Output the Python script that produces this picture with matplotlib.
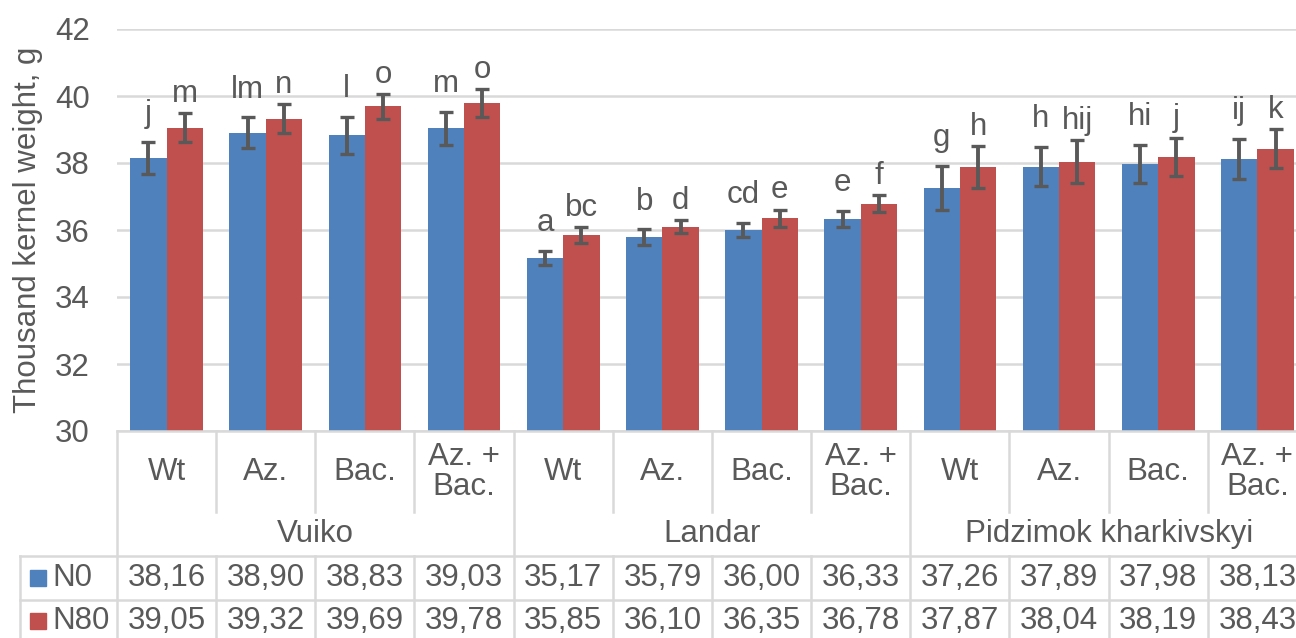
import matplotlib
matplotlib.use('Agg')
import matplotlib.pyplot as plt
from matplotlib.lines import Line2D
from matplotlib.patches import Rectangle
import matplotlib.transforms as mtransforms

plt.rcParams['font.family'] = ['Liberation Sans', 'DejaVu Sans']

groups = ['Vuiko', 'Landar', 'Pidzimok kharkivskyi']
treatments = ['Wt', 'Az.', 'Bac.', 'Az. +\nBac.']
series_names = ['N0', 'N80']

n0 = [38.16, 38.90, 38.83, 39.03, 35.17, 35.79, 36.00, 36.33, 37.26, 37.89, 37.98, 38.13]
n80 = [39.05, 39.32, 39.69, 39.78, 35.85, 36.10, 36.35, 36.78, 37.87, 38.04, 38.19, 38.43]
n0_err = [0.48, 0.46, 0.55, 0.50, 0.21, 0.24, 0.22, 0.24, 0.66, 0.59, 0.57, 0.60]
n80_err = [0.43, 0.43, 0.38, 0.42, 0.23, 0.20, 0.26, 0.25, 0.63, 0.64, 0.57, 0.58]
n0_letters = ['j', 'lm', 'l', 'm', 'a', 'b', 'cd', 'e', 'g', 'h', 'hi', 'ij']
n80_letters = ['m', 'n', 'o', 'o', 'bc', 'd', 'e', 'f', 'h', 'hij', 'j', 'k']

W, H = 1296, 638
blue = '#4F81BD'
red = '#C0504D'
txt = '#595959'
grid = '#D9D9D9'
fs = 22.5

fig = plt.figure(figsize=(W / 100, H / 100), dpi=100)
left, right, top, bottom = 117, 1307, 29, 431
ax = fig.add_axes([left / W, 1 - bottom / H, (right - left) / W, (bottom - top) / H])

n = len(n0)
xs = list(range(n))
bw = 0.367
ax.bar([x - bw / 2 for x in xs], n0, bw, color=blue, zorder=2)
ax.bar([x + bw / 2 for x in xs], n80, bw, color=red, zorder=2)
ax.errorbar([x - bw / 2 for x in xs], n0, yerr=n0_err, fmt='none', ecolor=txt,
            elinewidth=2.8, capsize=5, capthick=2.4, zorder=3)
ax.errorbar([x + bw / 2 for x in xs], n80, yerr=n80_err, fmt='none', ecolor=txt,
            elinewidth=2.8, capsize=5, capthick=2.4, zorder=3)

for i in range(n):
    ax.annotate(n0_letters[i], (i - bw / 2, n0[i] + n0_err[i]), xytext=(0, 14),
                textcoords='offset points', ha='center', va='baseline',
                fontsize=fs, color=txt)
    ax.annotate(n80_letters[i], (i + bw / 2, n80[i] + n80_err[i]), xytext=(0, 8),
                textcoords='offset points', ha='center', va='baseline',
                fontsize=fs, color=txt)

ax.set_xlim(-0.5, n - 0.5)
ax.set_ylim(30, 42)
ax.set_yticks(range(30, 43, 2))
ax.tick_params(axis='y', length=0, labelsize=fs, labelcolor=txt, pad=19.5)
ax.set_xticks([])
ax.grid(axis='y', color=grid, linewidth=1.8, zorder=0)
ax.set_axisbelow(True)
for s in ['top', 'right', 'left']:
    ax.spines[s].set_visible(False)
ax.spines['bottom'].set_color(grid)
ax.spines['bottom'].set_linewidth(1.8)
ax.set_ylabel('Thousand kernel weight, g', fontsize=fs, color=txt, labelpad=9)

# table below the axis
tr = mtransforms.blended_transform_factory(ax.transData, fig.transFigure)


def fy(py):
    return 1 - py / H


def vline(x, y0, y1, transform):
    fig.add_artist(Line2D([x, x], [fy(y0), fy(y1)], transform=transform,
                          color=grid, linewidth=1.8))


row_top, row_mid, row_bot = 556, 600, 645
for k in range(n + 1):
    xb = k - 0.5
    if k % 4 == 0:
        vline(xb, bottom, row_bot, tr)
    else:
        vline(xb, bottom, 512, tr)
        vline(xb, row_top, row_bot, tr)
vline(20 / W, row_top, row_bot, fig.transFigure)
for y in [row_top, row_mid, row_bot]:
    fig.add_artist(Line2D([20 / W, 1.02], [fy(y), fy(y)], transform=fig.transFigure,
                          color=grid, linewidth=1.8))

for i in range(n):
    fig.text(i, fy(472), treatments[i % 4], transform=tr, ha='center', va='center',
             fontsize=fs, color=txt, linespacing=1.0)
    fig.text(i, fy(578), f"{n0[i]:.2f}".replace('.', ','), transform=tr,
             ha='center', va='center', fontsize=fs, color=txt)
    fig.text(i, fy(621), f"{n80[i]:.2f}".replace('.', ','), transform=tr,
             ha='center', va='center', fontsize=fs, color=txt)
for g, name in enumerate(groups):
    fig.text(g * 4 + 1.5, fy(534), name, transform=tr, ha='center', va='center',
             fontsize=fs, color=txt)

for name, color, yc in [(series_names[0], blue, 578), (series_names[1], red, 621)]:
    fig.add_artist(Rectangle((30 / W, fy(yc + 8)), 16 / W, 16 / H,
                             transform=fig.transFigure, color=color))
    fig.text(52 / W, fy(yc), name, ha='left', va='center', fontsize=fs, color=txt)

fig.savefig('out.png', dpi=100)
